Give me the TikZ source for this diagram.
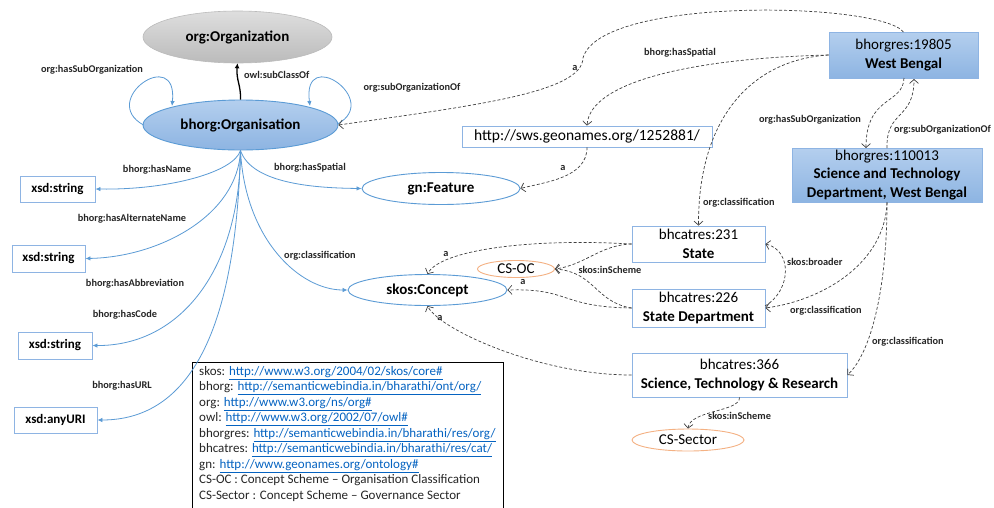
\documentclass[tikz,border=0pt]{standalone}
\usepackage{fontspec}
\setmainfont{Carlito}
\usetikzlibrary{arrows.meta,shapes.geometric}
\definecolor{edgeblue}{HTML}{5B9BD5}
\definecolor{boxblue}{HTML}{8EB4E3}
\definecolor{dashgray}{HTML}{404040}
\definecolor{labeltext}{HTML}{262626}
\definecolor{linkblue}{HTML}{0563C1}
\definecolor{csorange}{HTML}{F4B183}
\definecolor{grayA}{HTML}{DEDEDE}
\definecolor{grayB}{HTML}{BBBBBB}
\definecolor{blueA}{HTML}{B4CFEE}
\definecolor{blueB}{HTML}{8DB4E2}
\newcommand{\lnk}[1]{\textcolor{linkblue}{\underline{#1}}}
\begin{document}
\begin{tikzpicture}[x=1pt,y=-1pt,
  lbl/.style={font=\fontsize{10.3}{12}\selectfont\bfseries, text=labeltext, inner sep=1pt},
  bigtxt/.style={font=\fontsize{15}{18.5}\selectfont, text=black},
  bedge/.style={draw=edgeblue, line width=0.8pt, -{Latex[length=5pt,width=4.5pt]}},
  dedge/.style={draw=dashgray, line width=0.7pt, dash pattern=on 3pt off 2pt, -{Straight Barb[length=4pt,width=9pt]}},
  wbox/.style={draw=boxblue, line width=0.9pt, fill=white, inner sep=0pt, align=center, bigtxt},
  fbox/.style={draw=boxblue, line width=0.9pt, top color=blueA, bottom color=blueB, inner sep=0pt, align=center, bigtxt},
  bell/.style={ellipse, draw=edgeblue, line width=0.9pt, fill=white, inner sep=0pt, bigtxt},
  oell/.style={ellipse, draw=csorange, line width=0.9pt, fill=white, inner sep=0pt, bigtxt}
]
\useasboundingbox (0,0) rectangle (994,507);
\clip (0,0) rectangle (994,507);
\fill[white] (0,0) rectangle (994,507);

% main ellipses
\node[ellipse, draw=grayB, line width=0.6pt, top color=grayA, bottom color=grayB, minimum width=189, minimum height=52, inner sep=0pt, bigtxt] (org) at (237.5,37) {\bfseries org:Organization};
\node[ellipse, draw=edgeblue, line width=0.9pt, top color=blueA, bottom color=blueB, minimum width=195, minimum height=50, inner sep=0pt, bigtxt] (bo) at (240.5,125) {\bfseries bhorg:Organisation};

% datatype boxes
\node[wbox, minimum width=75, minimum height=26, font=\fontsize{13}{15}\selectfont\bfseries] (xs1) at (57.5,189) {xsd:string};
\node[wbox, minimum width=73, minimum height=27, font=\fontsize{13}{15}\selectfont\bfseries] (xs2) at (48.5,258.5) {xsd:string};
\node[wbox, minimum width=74, minimum height=27, font=\fontsize{13}{15}\selectfont\bfseries] (xs3) at (55,345.5) {xsd:string};
\node[wbox, minimum width=83, minimum height=26, font=\fontsize{13}{15}\selectfont\bfseries] (xuri) at (55.5,420) {xsd:anyURI};

% class ellipses
\node[bell, minimum width=158, minimum height=32] (gn) at (441,188.5) {\bfseries gn:Feature};
\node[bell, minimum width=159, minimum height=31] (skos) at (427.5,290) {\bfseries skos:Concept};
\node[oell, minimum width=77, minimum height=17] (csoc) at (516,269) {CS-OC};
\node[oell, minimum width=112, minimum height=22] (cssec) at (688,440) {CS-Sector};

% resource boxes
\node[wbox, minimum width=250, minimum height=21, font=\fontsize{15.5}{18}\selectfont] (url) at (587,136.5) {http://sws.geonames.org/1252881/};
\node[fbox, minimum width=149, minimum height=46] (wb) at (903.5,55) {bhorgres:19805\\ \textbf{West Bengal}};
\node[fbox, minimum width=190, minimum height=54] (so) at (887,175) {bhorgres:110013\\ \textbf{Science and Technology}\\ \textbf{Department, West Bengal}};
\node[wbox, minimum width=133, minimum height=36] (st) at (698.5,244) {bhcatres:231\\ \textbf{State}};
\node[wbox, minimum width=133, minimum height=38] (sd) at (698.5,308) {bhcatres:226\\ \textbf{State Department}};
\node[wbox, minimum width=215, minimum height=44] (str) at (739.5,375) {bhcatres:366\\ \textbf{Science, Technology \& Research}};

% legend
\node[draw=black, line width=0.8pt, anchor=north west, minimum width=311, minimum height=160, inner sep=0pt] (leg) at (192,362) {};
\node[anchor=north west, inner sep=0pt, align=left, font=\fontsize{13}{15.5}\selectfont, text=labeltext] (legtxt) at (199,366) {%
skos: \lnk{http://www.w3.org/2004/02/skos/core\#}\\
bhorg: \lnk{http://semanticwebindia.in/bharathi/ont/org/}\\
org: \lnk{http://www.w3.org/ns/org\#}\\
owl: \lnk{http://www.w3.org/2002/07/owl\#}\\
bhorgres: \lnk{http://semanticwebindia.in/bharathi/res/org/}\\
bhcatres: \lnk{http://semanticwebindia.in/bharathi/res/cat/}\\
gn: \lnk{http://www.geonames.org/ontology\#}\\
CS-OC : Concept Scheme -- Organisation Classification\\
CS-Sector : Concept Scheme -- Governance Sector};

% subclass
\draw[black, line width=1.3pt, -{Latex[length=5pt,width=5pt]}] (bo.north) .. controls (241,85) and (236,80) .. (org.south);
\node[lbl, anchor=west] (lsub) at (243,75) {owl:subClassOf};

% self loops
\coordinate (l0) at (143.5,125);
\coordinate (l1) at (172,106);
\draw[bedge] (l0) .. controls (98,100) and (178,45) .. (l1);
\node[lbl] (lhso) at (92,70) {org:hasSubOrganization};
\coordinate (r0) at (337.5,124);
\coordinate (r1) at (310,106);
\draw[bedge] (r0) .. controls (382,100) and (302,45) .. (r1);
\node[lbl] (lsoo) at (412,88) {org:subOrganizationOf};

% blue property edges
\draw[bedge] (bo.south) .. controls (234,172) and (170,190) .. (xs1.east);
\node[lbl] (l1a) at (157,170) {bhorg:hasName};
\draw[bedge] (bo.south) .. controls (238,215) and (160,257) .. (xs2.east);
\node[lbl] (l2a) at (132,219) {bhorg:hasAlternateName};
\draw[bedge] (bo.south) .. controls (240,270) and (180,346) .. (xs3.east);
\node[lbl] (l3a) at (135,284) {bhorg:hasAbbreviation};
\node[lbl] (l3b) at (125,315) {bhorg:hasCode};
\draw[bedge] (bo.south) .. controls (236,330) and (190,420) .. (xuri.east);
\node[lbl] (l4a) at (122,386) {bhorg:hasURL};
\draw[bedge] (bo.south) .. controls (252,185) and (320,188) .. (gn.west);
\node[lbl] (l5a) at (310,168) {bhorg:hasSpatial};
\draw[bedge] (bo.south) .. controls (245,240) and (300,290) .. (skos.west);
\node[lbl] (l6a) at (320,256) {org:classification};

% dashed edges
\coordinate (wbtop) at (903.5,32);
\coordinate (mida) at (583,58);
\draw[dedge] (wbtop) .. controls (880,2) and (600,-4) .. (mida) .. controls (582,92) and (480,105) .. (bo.east);
\node[lbl] (la1) at (575,68) {a};

\draw[dedge] (wb.west) .. controls (700,58) and (590,80) .. (url.north);
\node[lbl] (lhs) at (680,53) {bhorg:hasSpatial};

\draw[dedge] (url.south) .. controls (587,178) and (545,182) .. (gn.east);
\node[lbl] (la2) at (563,168) {a};

\coordinate (wbb1) at (904,78);
\coordinate (sot1) at (866,148);
\draw[dedge] (wbb1) .. controls (903,105) and (866,95) .. (sot1);
\node[lbl] (lhso2) at (810,120) {org:hasSubOrganization};

\coordinate (sot2) at (887,148);
\coordinate (wbb2) at (914,79);
\draw[dedge] (sot2) .. controls (886,110) and (914,120) .. (wbb2);
\node[lbl, anchor=west] (lsoo2) at (893,130) {org:subOrganizationOf};

\draw[dedge] (wb.west) .. controls (750,60) and (698,120) .. (st.north);
\node[lbl, anchor=west] (lcl1) at (702,203) {org:classification};

\draw[dedge] (st.west) .. controls (530,238) and (440,250) .. (skos.north);
\node[lbl] (la3) at (446,254) {a};

\draw[dedge] (sd.west) .. controls (560,307) and (570,288) .. (skos.east);
\node[lbl] (la4) at (523,282) {a};

\draw[dedge] (st.west) .. controls (600,245) and (585,265) .. (csoc.east);
\draw[dedge] (sd.west) .. controls (595,302) and (595,272) .. (csoc.east);
\node[lbl, fill=white, inner sep=0.5pt] (lis1) at (610,270) {skos:inScheme};

\coordinate (sde) at (765,306);
\draw[dedge] (sde) .. controls (792,290) and (792,250) .. (st.east);
\node[lbl, anchor=west] (lbr) at (786,262) {skos:broader};

\draw[dedge] (so.south) .. controls (885,262) and (825,300) .. (sd.east);
\node[lbl, anchor=west] (lcl2) at (789,311) {org:classification};

\draw[dedge] (so.south) .. controls (887,285) and (872,352) .. (str.east);
\node[lbl, anchor=west] (lcl3) at (871,342) {org:classification};

\draw[dedge] (str.west) .. controls (540,375) and (440,330) .. (skos.south);
\node[lbl] (la5) at (440,318) {a};

\draw[dedge] (str.south) .. controls (740,412) and (690,410) .. (cssec.north);
\node[lbl, anchor=west] (lis2) at (707,416) {skos:inScheme};
\end{tikzpicture}
\end{document}
